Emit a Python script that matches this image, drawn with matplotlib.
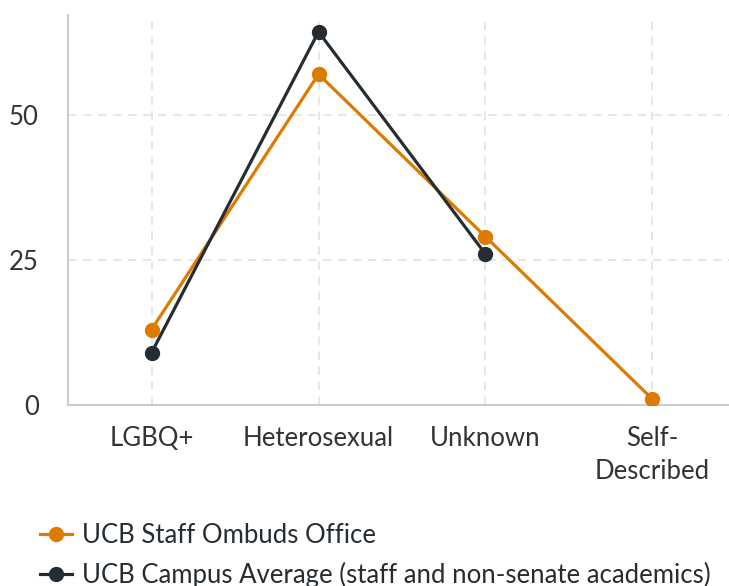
import matplotlib.pyplot as plt
from matplotlib.lines import Line2D

plt.rcParams['font.family'] = ['Lato', 'DejaVu Sans']

categories = ["LGBQ+", "Heterosexual", "Unknown", "Self-\nDescribed"]
ombuds = [13, 57, 29, 1]
campus = [9, 64.3, 26]

orange = "#dd7a00"
dark = "#252d33"
text_color = "#333333"

fig = plt.figure(figsize=(7.29, 5.86), dpi=100)
ax = fig.add_axes([68 / 729, 1 - 405 / 586, 668 / 729, 390 / 586])

x = list(range(len(categories)))
ax.plot(x, ombuds, color=orange, lw=2.3, marker="o", ms=10, zorder=3)
ax.plot(x[:len(campus)], campus, color=dark, lw=2.3, marker="o", ms=10, zorder=4)

ax.set_xlim(-0.5, 3.5)
ax.set_ylim(0, 67.2)
ax.set_xticks(x)
ax.set_xticklabels(categories, fontsize=18.5, color=text_color, linespacing=1.42)
ax.set_yticks([0, 25, 50])
ax.set_yticklabels(["0", "25", "50"], fontsize=18.5, color=text_color)
ax.tick_params(length=0)
ax.tick_params(axis="x", pad=15)
ax.tick_params(axis="y", pad=21)

ax.grid(True, color="#e2e2e2", ls=(0, (5, 4)), lw=1.2)
for s in ["top", "right"]:
    ax.spines[s].set_visible(False)
for s in ["left", "bottom"]:
    ax.spines[s].set_color("#cccccc")
    ax.spines[s].set_linewidth(1.5)

handles = [
    Line2D([], [], color=orange, lw=2.3, marker="o", ms=10),
    Line2D([], [], color=dark, lw=2.3, marker="o", ms=10),
]
labels = ["UCB Staff Ombuds Office",
          "UCB Campus Average (staff and non-senate academics)"]
fig.legend(handles, labels, loc="upper left", bbox_to_anchor=(32 / 729, 1 - 515 / 586),
           frameon=False, fontsize=18.5, handlelength=1.25, handletextpad=0.4,
           labelspacing=0.55, labelcolor=dark, borderaxespad=0, borderpad=0.3)

fig.savefig("out.png", dpi=100)
